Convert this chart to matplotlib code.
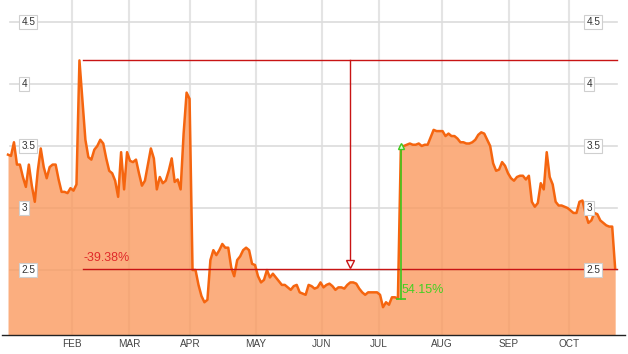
import numpy as np
import matplotlib
matplotlib.use('Agg')
import matplotlib.pyplot as plt

# trading-day index -> closing price
prices = [
    3.43, 3.42, 3.53, 3.35, 3.35, 3.25, 3.17, 3.35, 3.18, 3.05,
    3.30, 3.48, 3.33, 3.24, 3.33, 3.35, 3.35, 3.23, 3.13, 3.13,
    3.12, 3.16, 3.14, 3.19, 4.19, 3.87, 3.55, 3.41, 3.39, 3.47,
    3.50, 3.55, 3.52, 3.40, 3.30, 3.28, 3.22, 3.09, 3.45, 3.15,
    3.45, 3.38, 3.37, 3.39, 3.28, 3.18, 3.22, 3.35, 3.48, 3.40,
    3.15, 3.25, 3.20, 3.22, 3.30, 3.40, 3.21, 3.23, 3.15, 3.60,
    3.93, 3.88, 2.50, 2.50, 2.38, 2.29, 2.24, 2.26, 2.58, 2.66,
    2.62, 2.66, 2.71, 2.68, 2.68, 2.52, 2.45, 2.58, 2.61, 2.66,
    2.68, 2.66, 2.55, 2.54, 2.45, 2.40, 2.42, 2.50, 2.44, 2.47,
    2.44, 2.41, 2.38, 2.38, 2.36, 2.34, 2.37, 2.38, 2.32, 2.31,
    2.30, 2.38, 2.37, 2.35, 2.36, 2.40, 2.36, 2.38, 2.39, 2.37,
    2.34, 2.36, 2.36, 2.35, 2.38, 2.40, 2.40, 2.39, 2.35, 2.32,
    2.30, 2.32, 2.32, 2.32, 2.32, 2.30, 2.20, 2.24, 2.22, 2.28,
    2.28, 2.27, 3.50, 3.50, 3.51, 3.52, 3.51, 3.51, 3.52, 3.50,
    3.51, 3.51, 3.57, 3.63, 3.62, 3.62, 3.62, 3.58, 3.60, 3.58,
    3.58, 3.56, 3.53, 3.53, 3.52, 3.52, 3.53, 3.55, 3.59, 3.61,
    3.60, 3.55, 3.50, 3.36, 3.30, 3.31, 3.37, 3.34, 3.28, 3.24,
    3.22, 3.25, 3.26, 3.26, 3.23, 3.26, 3.05, 3.01, 3.04, 3.20,
    3.15, 3.45, 3.25, 3.19, 3.05, 3.02, 3.02, 3.01, 3.00, 2.98,
    2.96, 2.96, 3.05, 3.06, 2.96, 2.88, 2.90, 2.96, 2.95, 2.90,
    2.88, 2.86, 2.85, 2.85, 2.51,
]
days = np.arange(len(prices))

month_labels = ['FEB', 'MAR', 'APR', 'MAY', 'JUN', 'JUL', 'AUG', 'SEP', 'OCT']
month_pos = [21.5, 40.7, 61.2, 83.3, 105.5, 124.7, 145.8, 168.3, 188.5]
y_ticks = [2.5, 3, 3.5, 4, 4.5]
y_labels = ['2.5', '3', '3.5', '4', '4.5']

drop_label = '-39.38%'
rise_label = '54.15%'
jump_day = 132          # day the green measure is drawn at
measure_day = 115       # where the red arrow comes down

plt.rcParams['font.family'] = ['Liberation Sans', 'DejaVu Sans']

fig = plt.figure(figsize=(6.28, 3.54), dpi=100)
ax = fig.add_axes([2 / 628, 19 / 354, 623 / 628, 335 / 354])
ax.set_xlim(-2.02, 207.3)
ax.set_ylim(1.976, 4.677)

# grid
for m in month_pos:
    ax.axvline(m, color='#e4e4e4', lw=1.5, zorder=0)
for y in y_ticks:
    ax.axhline(y, xmin=8 / 623, xmax=615 / 623, color='#dcdcdc', lw=1.2, zorder=0)

# price area
ax.fill_between(days, prices, 1.976, color='#fa9a5f', alpha=0.8, lw=0, zorder=1)
ax.plot(days, prices, color='#f5650f', lw=1.8, zorder=2, solid_joinstyle='round')

# red drawdown measure
peak_i = int(np.argmax(prices))
peak = prices[peak_i]
last = prices[-1]
red = '#c81414'
ax.plot([peak_i + 1.2, days[-1] + 0.7], [peak, peak], color=red, lw=1, zorder=3)
ax.plot([peak_i + 1.2, days[-1] + 0.7], [last, last], color=red, lw=1, zorder=3)
ax.plot([measure_day, measure_day], [peak, last + 0.03], color=red, lw=1, zorder=3)
ax.plot(measure_day, last + 0.035, marker='v', ms=6, mfc='white', mec=red, mew=1, zorder=4)
ax.text(peak_i + 1.5, last + 0.04, drop_label, color='#e02a2a', fontsize=9,
        ha='left', va='bottom', zorder=4)

# green rise measure
green = '#3ec81e'
lo = prices[jump_day - 1]
hi = prices[jump_day]
ax.plot([jump_day, jump_day], [lo, hi], color=green, lw=1.2, zorder=4)
ax.plot(jump_day, lo, marker='_', ms=7, mew=1.2, color=green, zorder=4)
ax.plot(jump_day, hi, marker='^', ms=5, mfc='#d8ffd0', mec=green, mew=1, zorder=5)
ax.text(jump_day + 0.3, lo + 0.07, rise_label, color='#44d022', fontsize=9,
        ha='left', va='center', zorder=4)

# y labels in little boxes on both sides
box = dict(boxstyle='square,pad=0.2', fc='white', ec='#cfcfcf', lw=0.8)
for y, lab in zip(y_ticks, y_labels):
    ax.text(0.031, y, lab, transform=ax.get_yaxis_transform(), fontsize=7.2,
            color='#333333', ha='left', va='center', bbox=box, zorder=6)
    ax.text(0.938, y, lab, transform=ax.get_yaxis_transform(), fontsize=7.2,
            color='#333333', ha='left', va='center', bbox=box, zorder=6)

ax.set_xticks(month_pos)
ax.set_xticklabels(month_labels, fontsize=7.2, color='#444444')
ax.tick_params(axis='x', length=0, pad=3)
ax.set_yticks([])
for s in ['top', 'left', 'right']:
    ax.spines[s].set_visible(False)
ax.spines['bottom'].set_color('#222222')
ax.spines['bottom'].set_linewidth(1)

fig.savefig('out.png', dpi=100)
